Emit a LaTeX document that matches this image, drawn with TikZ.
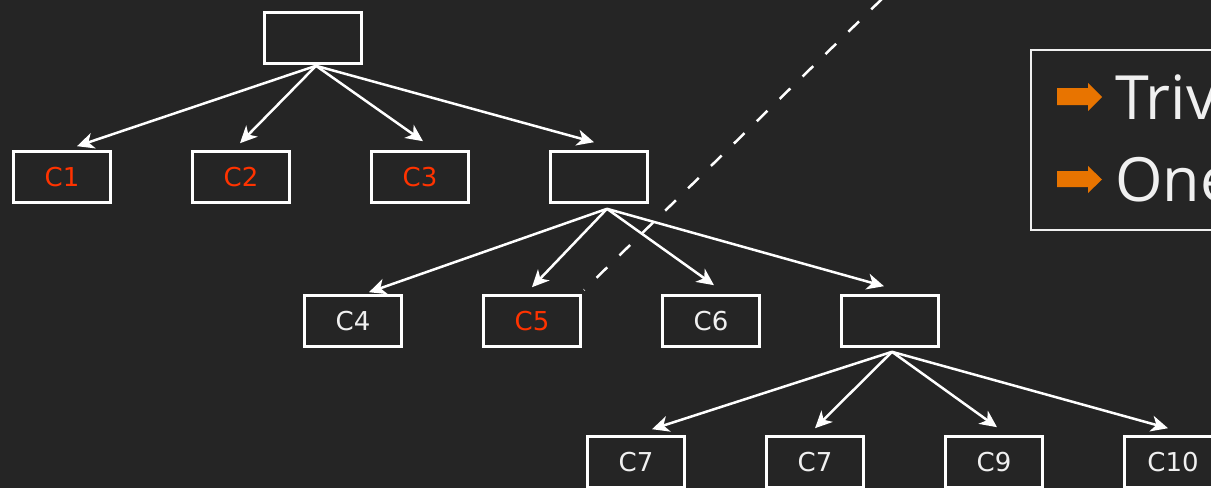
\documentclass[tikz,border=0pt]{standalone}
\usepackage{fontspec}
\setmainfont{DejaVu Sans}
\newfontfamily\legendfont{Open Sans}
\usetikzlibrary{arrows.meta,calc}
\definecolor{bg}{HTML}{252525}
\definecolor{hot}{HTML}{FF3300}
\definecolor{ink}{HTML}{F0F0F0}
\definecolor{pointer}{HTML}{E87400}
\begin{document}
\begin{tikzpicture}[x=1pt,y=-1pt,
  box/.style={draw=white,line width=2.6pt,minimum width=97pt,minimum height=51pt,
    inner sep=0pt,font=\fontsize{26}{31}\selectfont,text=ink},
  hotbox/.style={box,text=hot},
  link/.style={draw=white,line width=2.5pt,
    -{Stealth[length=17pt,width=16pt,inset=5pt]}},
  cutline/.style={draw=white,line width=2.5pt,dash pattern=on 15pt off 17pt,dash phase=14.5pt},
  legendtext/.style={anchor=base west,inner sep=0pt,text=ink,
    font=\legendfont\fontsize{61}{72}\selectfont},
]
\fill[bg] (0,0) rectangle (1211,488);
\useasboundingbox (0,0) rectangle (1211,488);

% tree nodes
\node[box] (root) at (313,38) {};
\node[hotbox] (c1) at (62,177) {C1};
\node[hotbox] (c2) at (241,177) {C2};
\node[hotbox] (c3) at (420,177) {C3};
\node[box] (n2) at (599,177) {};
\node[box] (c4) at (353,321) {C4};
\node[hotbox] (c5) at (532,321) {C5};
\node[box] (c6) at (711,321) {C6};
\node[box] (n3) at (890,321) {};
\node[box] (c7) at (636,462) {C7};
\node[box] (c8) at (815,462) {C7};
\node[box] (c9) at (994,462) {C9};
\node[box] (c10) at (1173,462) {C10};

% fork points just below each parent
\coordinate (f1) at ([shift={(3,1)}]root.south);
\coordinate (f2) at ([shift={(8,5)}]n2.south);
\coordinate (f3) at ([shift={(2,4)}]n3.south);

% branches
\draw[link] (f1) -- ([shift={(15,-4)}]c1.north);
\draw[link] (f1) -- ([shift={(-1,-7)}]c2.north);
\draw[link] (f1) -- ([shift={(3,-9)}]c3.north);
\draw[link] (f1) -- ([shift={(-5,-8)}]n2.north);

\draw[link] (f2) -- ([shift={(16,-2)}]c4.north);
\draw[link] (f2) -- ([shift={(0,-7)}]c5.north);
\draw[link] (f2) -- ([shift={(3,-9)}]c6.north);
\draw[link] (f2) -- ([shift={(-6,-8)}]n3.north);

\draw[link] (f3) -- ([shift={(16,-6)}]c7.north);
\draw[link] (f3) -- ([shift={(0,-7)}]c8.north);
\draw[link] (f3) -- ([shift={(3,-8)}]c9.north);
\draw[link] (f3) -- ([shift={(-5,-7)}]c10.north);

% dashed cut
\coordinate (cutA) at (584,290);
\coordinate (cutB) at (887,-6);
\draw[cutline] (cutA) -- (cutB);

% legend
\draw[ink,line width=2.5pt] (1031,50) rectangle (1262,230);
\fill[pointer] (1057,88) -- (1088,88) -- (1088,83) -- (1102,97) -- (1088,111)
  -- (1088,105) -- (1057,105) -- cycle;
\fill[pointer] (1057,171) -- (1088,171) -- (1088,166) -- (1102,179.5) -- (1088,193)
  -- (1088,187) -- (1057,187) -- cycle;
\node[legendtext] (l1) at (1115,119) {Triv};
\node[legendtext] (l2) at (1115,201) {One};
\end{tikzpicture}
\end{document}
